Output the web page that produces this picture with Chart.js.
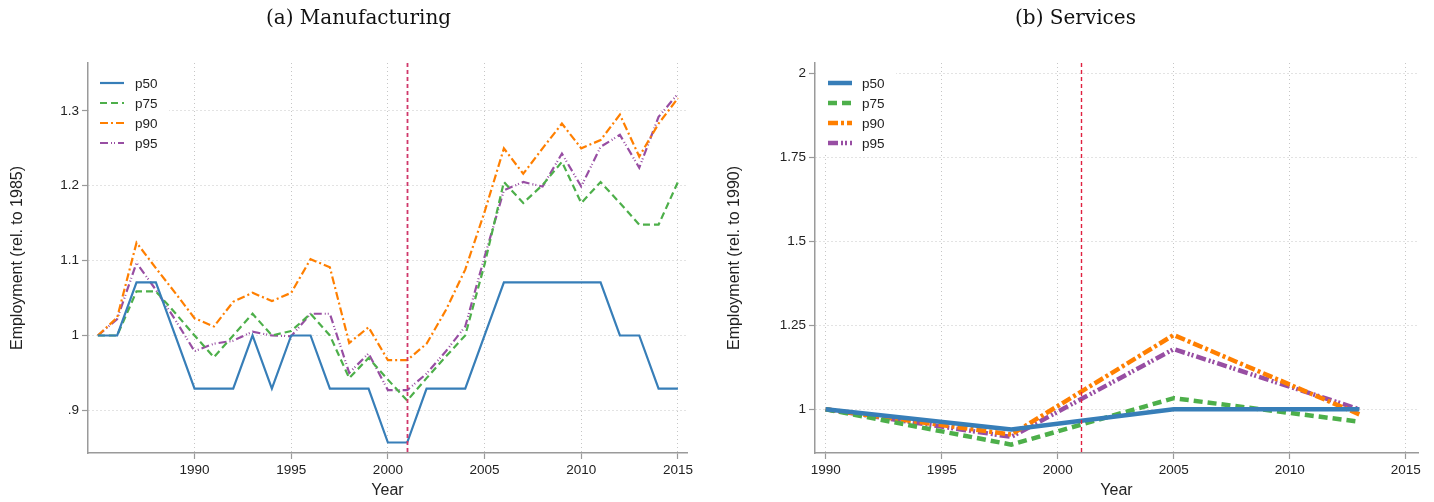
<!DOCTYPE html>
<html>
<head>
<meta charset="utf-8">
<script src="https://cdn.jsdelivr.net/npm/chart.js@4.4.0/dist/chart.umd.min.js"></script>
<style>
  html, body { margin: 0; padding: 0; background: #fff; }
  #wrap { position: relative; width: 1434px; height: 502px; overflow: hidden; }
  .panel { position: absolute; top: 0; width: 717px; height: 502px; }
  .panel canvas { position: absolute; left: 0; top: 0; }
  .title { position: absolute; top: 5px; width: 717px; text-align: center;
           font-family: "DejaVu Serif", "Liberation Serif", serif; font-size: 20px; color: #111; }
</style>
</head>
<body>
<div id="wrap">
  <div class="panel" style="left:0">
    <canvas id="mfg" width="717" height="502"></canvas>
    <div class="title">(a) Manufacturing</div>
  </div>
  <div class="panel" style="left:717px">
    <canvas id="svc" width="717" height="502"></canvas>
    <div class="title">(b) Services</div>
  </div>
</div>
<script>
// Series identity
const seriesNames  = ['p50', 'p75', 'p90', 'p95'];
const seriesColors = ['#377eb8', '#4daf4a', '#ff7f00', '#984ea3'];
const breakYear = 2001;
const xTickYears = [1990, 1995, 2000, 2005, 2010, 2015];

// (a) Manufacturing, employment relative to 1985
const mfgYears = [1985, 1986, 1987, 1988, 1989, 1990, 1991, 1992, 1993, 1994,
                  1995, 1996, 1997, 1998, 1999, 2000, 2001, 2002, 2003, 2004,
                  2005, 2006, 2007, 2008, 2009, 2010, 2011, 2012, 2013, 2014, 2015];
const mfgP50 = [1.000, 1.000, 1.071, 1.071, 1.000, 0.929, 0.929, 0.929, 1.000, 0.929,
                1.000, 1.000, 0.929, 0.929, 0.929, 0.857, 0.857, 0.929, 0.929, 0.929,
                1.000, 1.071, 1.071, 1.071, 1.071, 1.071, 1.071, 1.000, 1.000, 0.929, 0.929];
const mfgP75 = [1.000, 1.000, 1.059, 1.059, 1.030, 1.000, 0.971, 1.000, 1.029, 1.000,
                1.006, 1.029, 1.000, 0.943, 0.970, 0.941, 0.913, 0.943, 0.972, 1.000,
                1.095, 1.205, 1.177, 1.201, 1.232, 1.177, 1.205, 1.177, 1.148, 1.148, 1.205];
const mfgP90 = [1.000, 1.024, 1.124, 1.090, 1.057, 1.023, 1.012, 1.045, 1.057, 1.046,
                1.057, 1.102, 1.091, 0.990, 1.011, 0.967, 0.967, 0.989, 1.034, 1.088,
                1.165, 1.250, 1.216, 1.250, 1.283, 1.250, 1.261, 1.295, 1.239, 1.283, 1.317];
const mfgP95 = [1.000, 1.022, 1.097, 1.061, 1.021, 0.979, 0.989, 0.993, 1.005, 1.000,
                0.999, 1.029, 1.029, 0.950, 0.976, 0.927, 0.927, 0.949, 0.979, 1.012,
                1.105, 1.194, 1.205, 1.199, 1.243, 1.199, 1.252, 1.268, 1.224, 1.292, 1.323];
const mfgYTicks  = [0.9, 1.0, 1.1, 1.2, 1.3];
const mfgYLabels = ['.9', '1', '1.1', '1.2', '1.3'];

// (b) Services, employment relative to 1990
const svcYears = [1990, 1998, 2005, 2013];
const svcP50 = [1.000, 0.940, 1.000, 1.000];
const svcP75 = [1.000, 0.895, 1.033, 0.963];
const svcP90 = [1.000, 0.925, 1.221, 0.985];
const svcP95 = [1.000, 0.918, 1.179, 1.000];
const svcYTicks  = [1.0, 1.25, 1.5, 1.75, 2.0];
const svcYLabels = ['1', '1.25', '1.5', '1.75', '2'];

const tickFont = { family: '"Liberation Sans", Arial, sans-serif', size: 13.5 };
const axisTitleFont = { family: '"Liberation Sans", Arial, sans-serif', size: 16 };

// White inset legend in the top-left corner of the plot area
const insetLegend = {
  id: 'insetLegend',
  beforeDatasetsDraw(chart, args, o) {
    const { ctx, chartArea: a } = chart;
    ctx.save();
    ctx.fillStyle = '#fff';
    ctx.fillRect(a.left + 1, a.top, o.boxW, o.boxH);
    ctx.restore();
  },
  afterDatasetsDraw(chart, args, o) {
    const { ctx, chartArea: a } = chart;
    ctx.save();
    chart.data.datasets.forEach((ds, i) => {
      const y = a.top + o.firstRow + i * o.rowGap;
      ctx.strokeStyle = ds.borderColor;
      ctx.lineWidth = ds.borderWidth;
      ctx.setLineDash(ds.borderDash || []);
      ctx.beginPath();
      ctx.moveTo(a.left + o.x0, y);
      ctx.lineTo(a.left + o.x1, y);
      ctx.stroke();
      ctx.setLineDash([]);
      ctx.fillStyle = '#222';
      ctx.font = '13.5px "Liberation Sans", Arial, sans-serif';
      ctx.textBaseline = 'middle';
      ctx.fillText(ds.label, a.left + o.tx, y + 1);
    });
    ctx.restore();
  }
};

// Dashed vertical reference line at the break year
const breakLine = {
  id: 'breakLine',
  afterDatasetsDraw(chart, args, o) {
    const { ctx, chartArea: a, scales } = chart;
    const x = Math.round(scales.x.getPixelForValue(o.year)) + 0.5;
    ctx.save();
    ctx.strokeStyle = o.color;
    ctx.lineWidth = o.width;
    ctx.setLineDash([4, 3]);
    ctx.beginPath();
    ctx.moveTo(x, a.top);
    ctx.lineTo(x, a.bottom);
    ctx.stroke();
    ctx.restore();
  }
};

function makePanel(id, p) {
  const datasets = [p.p50, p.p75, p.p90, p.p95].map((vals, i) => ({
    label: seriesNames[i],
    data: p.years.map((yr, k) => ({ x: yr, y: vals[k] })),
    borderColor: seriesColors[i],
    backgroundColor: seriesColors[i],
    borderWidth: p.lineW,
    borderDash: p.dashes[i],
    pointRadius: 0,
    tension: 0,
    fill: false
  }));
  const gridOpts = { color: '#c6c6c6', lineWidth: 1, tickLength: 6, tickColor: '#9a9a9a', tickWidth: 1.2 };
  return new Chart(document.getElementById(id), {
    type: 'line',
    data: { datasets },
    options: {
      responsive: false,
      animation: false,
      devicePixelRatio: 1,
      layout: { padding: { top: 63, right: p.rightPad, left: 0, bottom: 0 } },
      plugins: {
        legend: { display: false },
        tooltip: { enabled: false },
        insetLegend: p.legend,
        breakLine: { year: breakYear, color: p.breakColor, width: p.breakWidth }
      },
      scales: {
        x: {
          type: 'linear',
          min: p.xMin, max: p.xMax,
          afterBuildTicks: s => { s.ticks = xTickYears.map(v => ({ value: v })); },
          afterFit: s => { s.height = p.bottomH; },
          ticks: { font: tickFont, color: '#222', padding: 3, maxRotation: 0,
                   callback: v => String(v) },
          grid: gridOpts,
          border: { display: true, color: '#9a9a9a', width: 1.5, dash: [1, 3] },
          title: { display: true, text: 'Year', font: axisTitleFont, color: '#222',
                   padding: { top: 0, bottom: 2 } }
        },
        y: {
          type: 'linear',
          min: p.yMin, max: p.yMax,
          afterBuildTicks: s => { s.ticks = p.yTicks.map(v => ({ value: v })); },
          afterFit: s => { s.width = p.leftW; },
          ticks: { font: tickFont, color: '#222', padding: 3,
                   callback: (v, i) => p.yLabels[i] },
          grid: gridOpts,
          border: { display: true, color: '#9a9a9a', width: 1.5, dash: [1, 3] },
          title: { display: true, text: p.yTitle, font: axisTitleFont, color: '#222',
                   padding: { top: 8, bottom: 0 } }
        }
      }
    },
    plugins: [insetLegend, breakLine]
  });
}

makePanel('mfg', {
  years: mfgYears, p50: mfgP50, p75: mfgP75, p90: mfgP90, p95: mfgP95,
  yTicks: mfgYTicks, yLabels: mfgYLabels,
  xMin: 1984.49, xMax: 2015.47, yMin: 0.843, yMax: 1.364,
  leftW: 88, rightPad: 30, bottomH: 49,
  lineW: 2.2,
  dashes: [[], [7, 4], [8, 3, 2, 3], [8, 3, 1, 2, 1, 3]],
  yTitle: 'Employment (rel. to 1985)',
  breakColor: '#d0386a', breakWidth: 1.8,
  legend: { boxW: 80, boxH: 92, firstRow: 20, rowGap: 20, x0: 12, x1: 36, tx: 47 }
});

makePanel('svc', {
  years: svcYears, p50: svcP50, p75: svcP75, p90: svcP90, p95: svcP95,
  yTicks: svcYTicks, yLabels: svcYLabels,
  xMin: 1989.54, xMax: 2015.53, yMin: 0.87, yMax: 2.03,
  leftW: 98, rightPad: 16, bottomH: 49,
  lineW: 4.5,
  dashes: [[], [9, 5], [10, 3, 3, 3], [10, 3, 2, 2, 2, 3]],
  yTitle: 'Employment (rel. to 1990)',
  breakColor: '#e0203f', breakWidth: 1.4,
  legend: { boxW: 80, boxH: 92, firstRow: 20, rowGap: 20, x0: 13, x1: 37, tx: 47 }
});
</script>
</body>
</html>
